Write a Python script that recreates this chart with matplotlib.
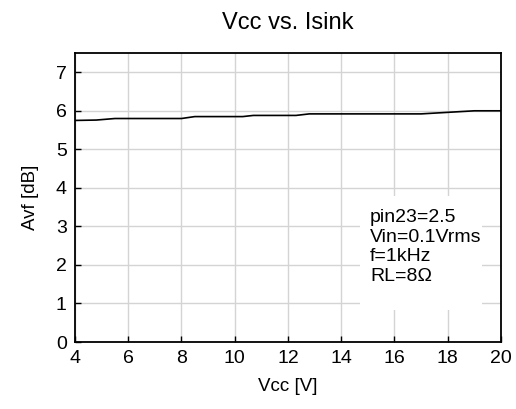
import matplotlib
matplotlib.use("Agg")
import matplotlib.pyplot as plt
from matplotlib.patches import Rectangle

plt.rcParams['font.family'] = ['Liberation Sans', 'DejaVu Sans']

# Vcc [V] vs Avf [dB]
vcc = [4.0, 4.8, 5.5, 8.0, 8.5, 10.3, 10.7, 12.3, 12.8, 17.0, 18.0, 19.0, 20.0]
avf = [5.75, 5.76, 5.80, 5.80, 5.85, 5.85, 5.88, 5.88, 5.92, 5.92, 5.96, 6.00, 6.00]

x_ticks = [4, 6, 8, 10, 12, 14, 16, 18, 20]
y_ticks = [0, 1, 2, 3, 4, 5, 6, 7]
notes = ["pin23=2.5", "Vin=0.1Vrms", "f=1kHz", "RL=8\u03a9"]

fig = plt.figure(figsize=(5.16, 4.09), dpi=100)
ax = fig.add_axes([0.1453, 0.1638, 0.8256, 0.7066])

ax.plot(vcc, avf, color="black", linewidth=1.2, zorder=3)

ax.set_xlim(4, 20)
ax.set_ylim(0, 7.5)
ax.set_xticks(x_ticks)
ax.set_yticks(y_ticks)
ax.grid(True, color="#d4d4d4", linewidth=1.0)
ax.tick_params(direction="in", length=4, width=1, labelsize=14, pad=6, colors="black")
for s in ax.spines.values():
    s.set_linewidth(1.3)

# white box behind the notes hides the grid
ax.add_patch(Rectangle((14.7, 0.83), 4.6, 2.97, facecolor="white",
                       edgecolor="none", zorder=1.8))
ax.text(15.08, 3.45, "\n".join(notes), fontsize=14, va="top", ha="left",
        linespacing=1.2, zorder=4)

ax.set_xlabel("Vcc [V]", fontsize=13.5, labelpad=8)
ax.set_ylabel("Avf [dB]", fontsize=13.5, labelpad=12)
ax.set_title("Vcc vs. Isink", fontsize=17, pad=17)

fig.savefig("out.png", dpi=100)
